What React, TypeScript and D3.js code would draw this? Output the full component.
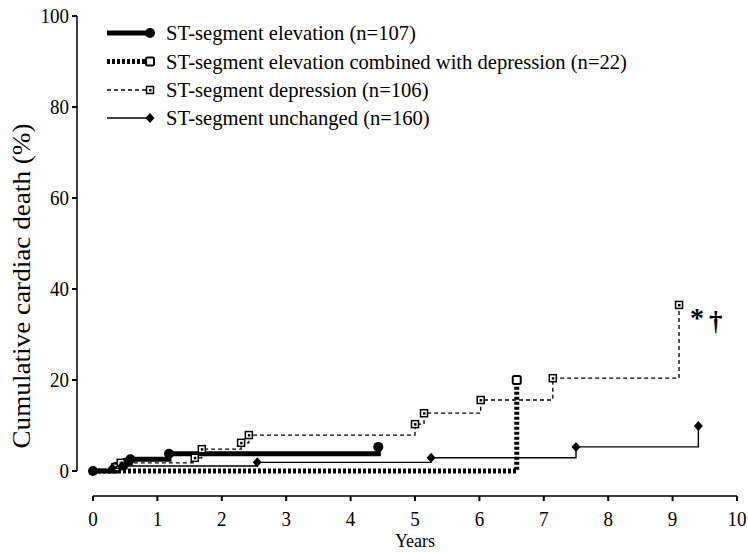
import React from "react";
import * as d3 from "d3";

type Pt = [number, number];

const elevation: Pt[] = [[0, 0], [0.35, 0.9], [0.5, 1.8], [0.58, 2.6], [1.18, 3.8], [4.43, 5.3]];
const combined: Pt[] = [[0, 0], [6.58, 20.0]];
const depression: Pt[] = [[0, 0], [0.35, 0.8], [0.43, 1.8], [1.58, 2.9], [1.69, 4.8], [2.3, 6.2], [2.42, 7.9], [5.0, 10.3], [5.14, 12.7], [6.02, 15.6], [7.14, 20.4], [9.1, 36.5]];
const unchanged: Pt[] = [[0, 0], [0.3, 0.6], [0.45, 1.1], [2.55, 1.9], [5.25, 2.9], [7.5, 5.3], [9.4, 9.9]];

const legendLabels = [
  "ST-segment elevation (n=107)",
  "ST-segment elevation combined with depression (n=22)",
  "ST-segment depression (n=106)",
  "ST-segment unchanged (n=160)",
];
const xTicks = [0, 1, 2, 3, 4, 5, 6, 7, 8, 9, 10];
const yTicks = [0, 20, 40, 60, 80, 100];

const FONT = "'Liberation Serif', 'Times New Roman', serif";

export default function App() {
  const x = d3.scaleLinear().domain([0, 10]).range([93, 737]);
  const y = d3.scaleLinear().domain([0, 100]).range([471, 16]);
  const line = d3.line<Pt>().x((d) => x(d[0])).y((d) => y(d[1])).curve(d3.curveStepAfter);

  const stepPath = (pts: Pt[]) => line(pts) || "";

  const circle = (cx: number, cy: number, k: string) => <circle key={k} cx={cx} cy={cy} r={5} fill="#000" />;
  const openSq = (cx: number, cy: number, k: string) => (
    <rect key={k} x={cx - 4} y={cy - 4} width={8} height={8} rx={1.5} fill="#fff" stroke="#000" strokeWidth={2} />
  );
  const smallSq = (cx: number, cy: number, k: string) => (
    <g key={k}>
      <rect x={cx - 3.5} y={cy - 3.5} width={7} height={7} fill="#fff" stroke="#000" strokeWidth={1.5} />
      <rect x={cx - 1} y={cy - 1} width={2.5} height={2.5} fill="#000" />
    </g>
  );
  const diamond = (cx: number, cy: number, k: string) => (
    <path key={k} d={`M${cx},${cy - 5}L${cx + 4.5},${cy}L${cx},${cy + 5}L${cx - 4.5},${cy}Z`} fill="#000" />
  );

  const series = [
    { pts: elevation, sw: 5, dash: undefined as string | undefined, marker: circle, markAll: true },
    { pts: combined, sw: 5, dash: "3,2", marker: openSq, markAll: false },
    { pts: depression, sw: 1.3, dash: "4,3", marker: smallSq, markAll: true },
    { pts: unchanged, sw: 1.4, dash: undefined as string | undefined, marker: diamond, markAll: true },
  ];

  const legendY = [33, 61.5, 90, 118];

  return (
    <svg width={748} height={552} style={{ position: "absolute", left: 0, top: 0, background: "#fff" }} fontFamily={FONT}>
      {/* Y axis */}
      <line x1={77} x2={77} y1={y(100)} y2={y(0)} stroke="#000" strokeWidth={1.5} />
      {yTicks.map((t) => (
        <g key={t}>
          <line x1={72} x2={77} y1={y(t)} y2={y(t)} stroke="#000" strokeWidth={2} />
          <text transform={`translate(69,${y(t)}) scale(1,1.1)`} dy="0.35em" textAnchor="end" fontSize={19}>{t}</text>
        </g>
      ))}
      <text transform={`translate(30,286) rotate(-90)`} textAnchor="middle" fontSize={26} textLength={325} lengthAdjust="spacingAndGlyphs">
        Cumulative cardiac death (%)
      </text>
      {/* X axis */}
      <line x1={x(0)} x2={x(10)} y1={496} y2={496} stroke="#000" strokeWidth={1.5} />
      {xTicks.map((t) => (
        <g key={t}>
          <line x1={x(t)} x2={x(t)} y1={496} y2={501} stroke="#000" strokeWidth={2} />
          <text transform={`translate(${x(t)},526) scale(1,1.05)`} textAnchor="middle" fontSize={19}>{t}</text>
        </g>
      ))}
      <text x={x(5)} y={547} textAnchor="middle" fontSize={18}>Years</text>

      {/* series */}
      {series.map((s, i) => (
        <g key={i}>
          <path d={stepPath(s.pts)} fill="none" stroke="#000" strokeWidth={s.sw} strokeDasharray={s.dash} />
          {s.pts.map((p, j) =>
            j === 0 && i !== 0 ? null : !s.markAll && j < s.pts.length - 1 ? null : s.marker(x(p[0]), y(p[1]), `${i}-${j}`)
          )}
        </g>
      ))}

      <text x={690} y={327} fontSize={28} fontWeight="bold">*</text>
      <text x={709} y={330} fontSize={27} fontWeight="bold">†</text>

      {/* legend */}
      {legendLabels.map((lab, i) => {
        const s = series[i];
        return (
          <g key={i}>
            <line x1={107} x2={150} y1={legendY[i]} y2={legendY[i]} stroke="#000" strokeWidth={s.sw} strokeDasharray={s.dash} />
            {s.marker(150, legendY[i], `lg${i}`)}
            <text x={166} y={legendY[i]} dy="0.35em" fontSize={20.6}>{lab}</text>
          </g>
        );
      })}
    </svg>
  );
}
